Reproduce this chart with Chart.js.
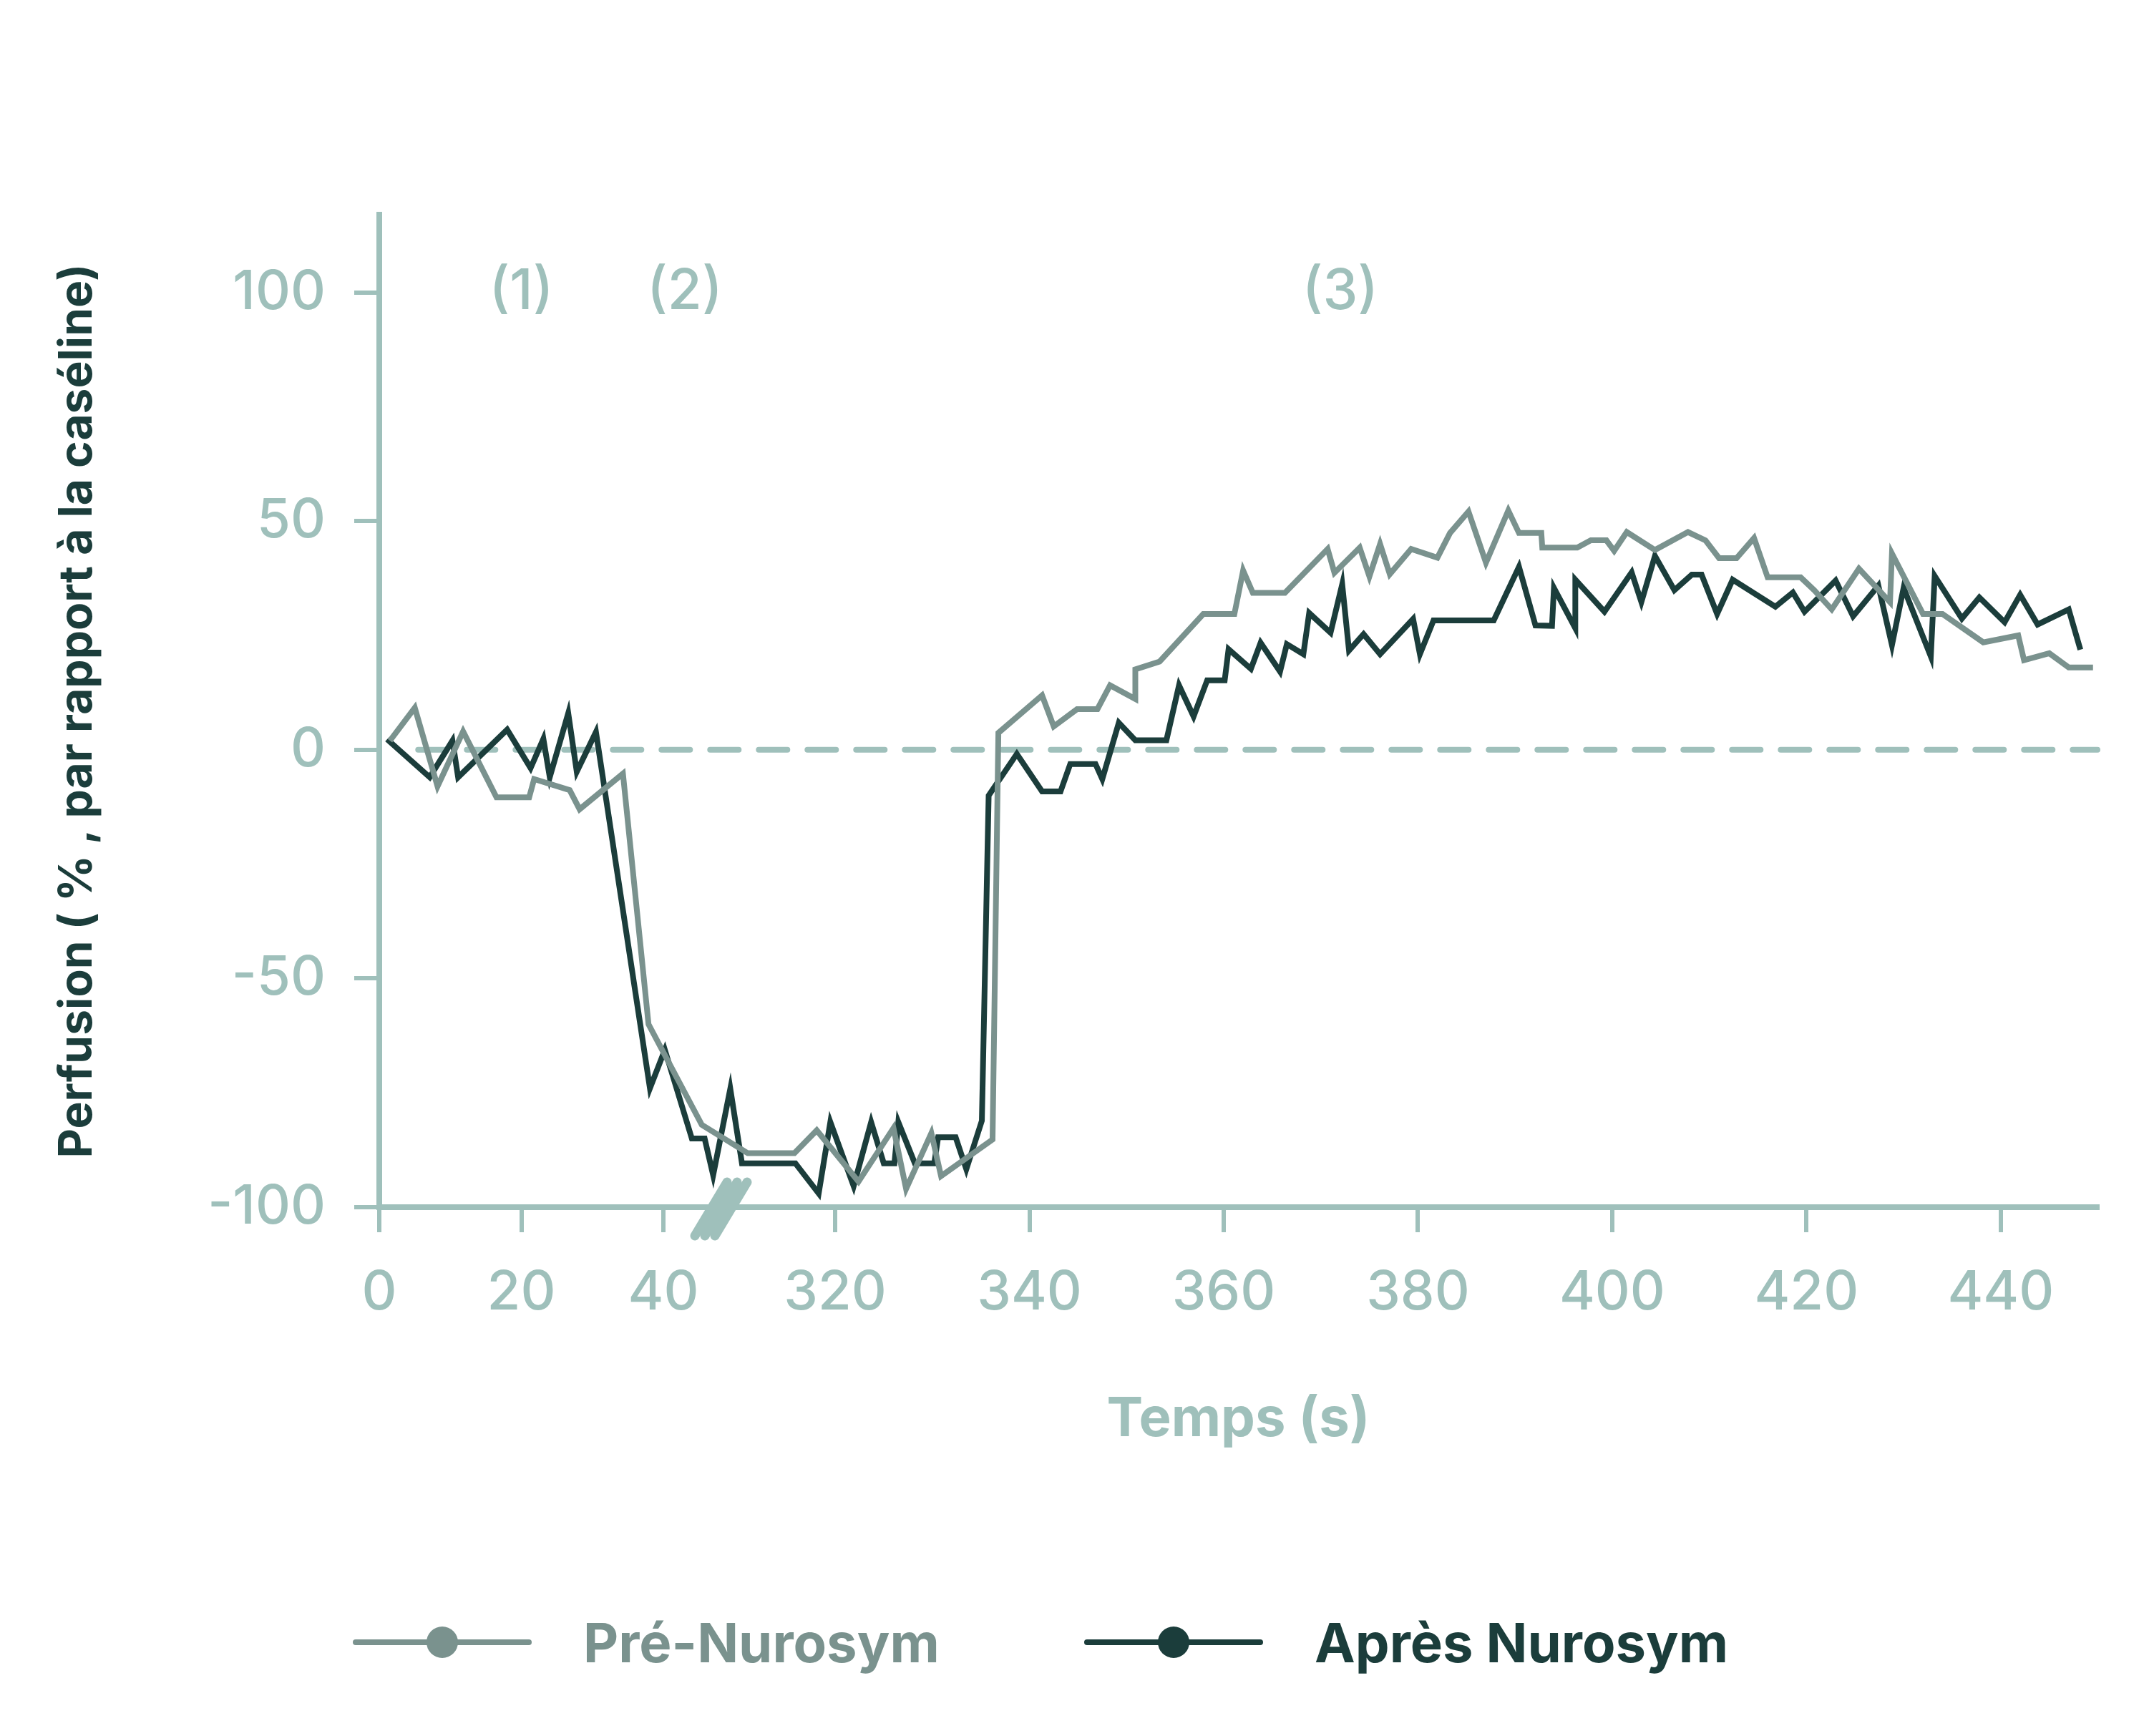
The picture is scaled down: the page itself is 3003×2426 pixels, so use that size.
<!DOCTYPE html>
<html>
<head>
<meta charset="utf-8">
<script src="https://cdn.jsdelivr.net/npm/chart.js@4.4.1/dist/chart.umd.min.js"></script>
<style>
  body { margin: 0; background: #fff; width: 3003px; height: 2426px; overflow: hidden; position: relative; font-family: Inter, "Noto Sans", sans-serif; }
  #wrap { position: absolute; left: 0; top: 0; width: 3003px; height: 2426px; }
  .leg { position: absolute; top: 2245px; height: 100px; display: flex; align-items: center; font-weight: 700; font-size: 76px; }
  .leg .sym { position: relative; width: 250px; height: 100px; margin-right: 72px; }
  .leg .sym i { position: absolute; left: 0; right: 0; top: 46px; height: 8px; border-radius: 4px; }
  .leg .sym b { position: absolute; left: 103px; top: 28px; width: 44px; height: 44px; border-radius: 50%; }
</style>
</head>
<body>
<div id="wrap"><canvas id="myChart" width="3003" height="2426"></canvas></div>
<div class="leg" style="left:493px;color:#7a928e"><span class="sym"><i style="background:#7a928e"></i><b style="background:#7a928e"></b></span>Pré-Nurosym</div>
<div class="leg" style="left:1515px;color:#1b3d3b"><span class="sym"><i style="background:#1b3d3b"></i><b style="background:#1b3d3b"></b></span>Après Nurosym</div>
<script>
// time (s); axis is broken between 48 s and 308 s
const preTimes = [1.5, 5, 8.2, 11.8, 16.5, 21.1, 21.8, 26.8, 28.2, 34.3, 37.9, 45.4,
  311, 315.8, 318.1, 322.4, 326, 327.3, 329.9, 330.9, 336.2, 336.8,
  341.3, 342.5, 344.9, 347, 348.3, 350.9, 350.9, 353.4, 357.9, 361.1, 362, 363, 366.3,
  370.7, 371.4, 374, 375, 376.1, 377.1, 379.3, 382, 383.3, 385.2, 387, 389.3, 390.4, 392.7, 392.8,
  396.4, 397.8, 399.4, 400.2, 401.5, 404.4, 407.8, 409.6, 411, 412.8, 414.6, 416, 419.4,
  420.8, 422.6, 425.4, 428.6, 428.8, 432, 434, 438.2, 441.8, 442.4, 445, 447, 449.5];
const preValues = [2, 9.2, -8, 4, -10.4, -10.4, -6.4, -8.8, -13, -5.2, -60, -82,
  -88.2, -88.2, -83.2, -94.4, -82.7, -96, -83.8, -93.2, -85.2, 3.7,
  11.9, 5.1, 8.9, 8.9, 14.1, 11.1, 17.6, 19.3, 29.7, 29.7, 39.2, 34.3, 34.3,
  43.9, 38.7, 44.2, 37.9, 45, 38.4, 43.9, 42, 47.4, 52.1, 40.9, 52.3, 47.4, 47.4, 44.2,
  44.2, 45.8, 45.8, 43.5, 47.6, 43.7, 47.6, 45.8, 41.9, 41.9, 46.3, 37.7, 37.7,
  34.9, 30.7, 39.6, 32.3, 42.9, 29.7, 29.7, 23.5, 25, 19.6, 21.1, 18, 18];

const postTimes = [1.1, 7.1, 10.3, 11.1, 18, 21.3, 23.1, 24, 26.6, 27.8, 30.5, 38.1, 40.2, 44, 45.8, 47,
  309.2, 310.4, 315.9, 318.3, 319.5, 321.9, 323.7, 325, 326.1, 326.5, 328.2, 330.2, 330.6, 332.4, 333.5, 335.1, 335.8,
  338.7, 341.3, 343.2, 344.2, 346.8, 347.5, 349.2, 350.9, 354.1, 355.4, 356.9, 358.3, 360.1, 360.5,
  362.8, 363.8, 365.8, 366.5, 368.2, 368.8, 371, 372.2, 372.9, 374.4, 376.1, 379.5, 380.2, 381.6, 387.8,
  390.4, 392.1, 393.8, 394, 396.2, 396.2, 399.2, 402, 403, 404.4, 406.4, 408.2, 409.2, 410.8, 412.4,
  416.8, 418.6, 419.8, 423, 424.8, 427.4, 428.8, 430, 432.8, 433.2, 436, 437.8, 440.4, 442, 443.8, 447, 448.2];
const postValues = [2.3, -6, 2, -6, 4.4, -4, 2.4, -6, 8, -4.8, 3.9, -74, -65.6, -85, -85, -93,
  -74.1, -90.4, -90.4, -97, -81.4, -95.4, -81.4, -90.4, -90.4, -81.4, -90.4, -90.4, -84.7, -84.7, -91.7, -81.1, -10,
  -0.9, -9.1, -9.1, -3.1, -3.1, -6.4, 5.9, 2.1, 2.1, 14.1, 7.3, 15.2, 15.2, 22,
  17.7, 23.4, 17.1, 23.1, 20.9, 29.9, 25.6, 36.2, 21.7, 25.3, 20.9, 28.6, 20.9, 28.3, 28.3,
  40, 27.2, 27.1, 35.4, 26.6, 37.2, 30.2, 38.8, 32.3, 42.4, 34.9, 38.3, 38.3, 29.7, 37.2,
  31.3, 34.4, 30.2, 37, 29.2, 35.9, 22.9, 35.4, 20.4, 38, 28.7, 33.3, 27.9, 33.9, 27.4, 30.7, 21.9];

const xTickTimes = [0, 20, 40, 320, 340, 360, 380, 400, 420, 440];
const xTickLabels = ["0", "20", "40", "320", "340", "360", "380", "400", "420", "440"];
const yTicks = [-100, -50, 0, 50, 100];
const phaseLabels = ["(1)", "(2)", "(3)"];
const phaseTimes = [20, 43, 372];

const LIGHT = "#9fc0bb";
const GREY = "#7a928e";
const DARK = "#1b3d3b";

// broken axis: left part is compressed, right part runs 1:1
function toAxis(t) {
  return t < 200 ? t * 0.7314 : 46.94 + (t - 320);
}
const X_MAX = 176.9;

function pts(times, values) {
  return times.map((t, i) => ({ x: toAxis(t), y: values[i] }));
}

const extras = {
  id: "extras",
  beforeDatasetsDraw(chart) {
    const { ctx, scales: { x, y }, chartArea } = chart;
    ctx.save();
    ctx.strokeStyle = LIGHT;
    ctx.lineWidth = 8;
    ctx.lineCap = "round";
    ctx.setLineDash([40, 28]);
    const y0 = y.getPixelForValue(0);
    ctx.beginPath();
    ctx.moveTo(x.getPixelForValue(4), y0);
    ctx.lineTo(chartArea.right, y0);
    ctx.stroke();
    ctx.setLineDash([]);
    ctx.fillStyle = LIGHT;
    ctx.font = "500 78px Inter";
    ctx.textAlign = "center";
    ctx.textBaseline = "middle";
    phaseLabels.forEach((l, i) => {
      ctx.fillText(l, x.getPixelForValue(toAxis(phaseTimes[i])), y.getPixelForValue(100));
    });
    ctx.restore();
  },
  afterDraw(chart) {
    const { ctx, chartArea } = chart;
    ctx.save();
    ctx.strokeStyle = LIGHT;
    ctx.lineWidth = 13;
    ctx.lineCap = "round";
    const bx = 1010, by = chartArea.bottom;
    [-14, 0, 14].forEach((o) => {
      ctx.beginPath();
      ctx.moveTo(bx + o - 25, by + 40);
      ctx.lineTo(bx + o + 20, by - 35);
      ctx.stroke();
    });
    ctx.restore();
  },
};

const ctx = document.getElementById("myChart");
new Chart(ctx, {
  type: "line",
  data: {
    datasets: [
      {
        label: "Pré-Nurosym",
        data: pts(preTimes, preValues),
        borderColor: GREY,
        borderWidth: 8,
        pointRadius: 0,
        tension: 0,
        order: 0,
      },
      {
        label: "Après Nurosym",
        data: pts(postTimes, postValues),
        borderColor: DARK,
        borderWidth: 8,
        pointRadius: 0,
        tension: 0,
        order: 1,
      },
    ],
  },
  options: {
    responsive: false,
    animation: false,
    devicePixelRatio: 1,
    layout: { padding: { left: 0, top: 300, right: 72, bottom: 376 } },
    plugins: { legend: { display: false }, tooltip: { enabled: false } },
    scales: {
      x: {
        type: "linear",
        min: 0,
        max: X_MAX,
        afterFit: (s) => { s.height = 363; },
        afterBuildTicks: (s) => { s.ticks = xTickTimes.map((t) => ({ value: toAxis(t) })); },
        border: { color: LIGHT, width: 8 },
        grid: { drawOnChartArea: false, color: LIGHT, lineWidth: 6, tickLength: 35 },
        ticks: {
          color: LIGHT,
          font: { family: "Inter", size: 76, weight: 500 },
          padding: 40,
          maxRotation: 0,
          autoSkip: false,
          callback: (v, i) => xTickLabels[i],
        },
        title: { display: true, text: "Temps (s)", color: LIGHT,
          font: { family: "Inter", size: 76, weight: 700 }, padding: { top: 0, bottom: 20 } },
      },
      y: {
        min: -100,
        max: 117,
        afterFit: (s) => { s.width = 530; },
        afterBuildTicks: (s) => { s.ticks = yTicks.map((v) => ({ value: v })); },
        border: { color: LIGHT, width: 8 },
        grid: { drawOnChartArea: false, color: LIGHT, lineWidth: 6, tickLength: 35 },
        ticks: {
          color: LIGHT,
          font: { family: "Inter", size: 76, weight: 500 },
          padding: 40,
          callback: (v) => String(v),
        },
        title: { display: true, text: "Perfusion ( % , par rapport à la caséline)", color: DARK,
          font: { family: "Inter", size: 64, weight: 700 }, padding: { top: 70, bottom: 0 } },
      },
    },
  },
  plugins: [extras],
});
</script>
</body>
</html>
